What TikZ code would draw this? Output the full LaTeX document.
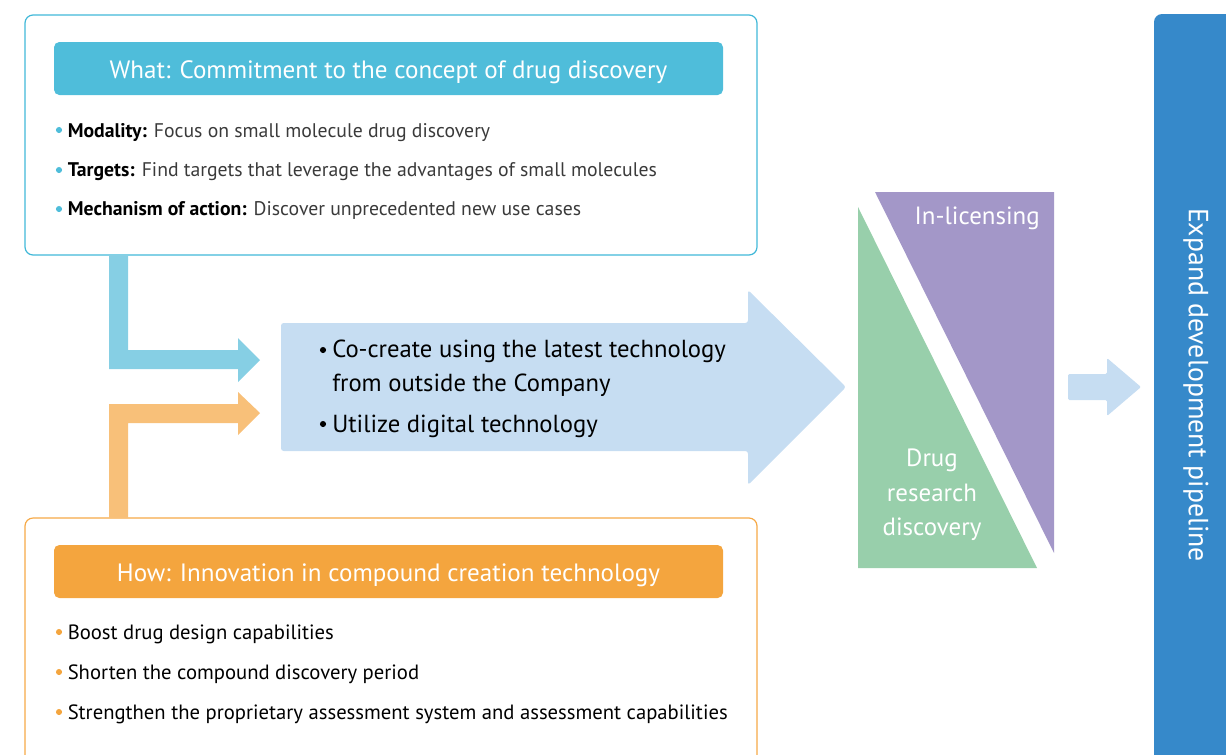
\documentclass[tikz,border=0pt]{standalone}
\usepackage{fontspec}
\setmainfont{PT Sans}
\definecolor{cyanline}{HTML}{41B8D8}
\definecolor{cyanhead}{HTML}{4FBDDA}
\definecolor{cyanarrow}{HTML}{86CFE4}
\definecolor{orangeline}{HTML}{F6A947}
\definecolor{orangehead}{HTML}{F4A53E}
\definecolor{orangearrow}{HTML}{F8C079}
\definecolor{bluearrow}{HTML}{C6DDF2}
\definecolor{greentri}{HTML}{98CFAB}
\definecolor{purpletri}{HTML}{A397C8}
\definecolor{barblue}{HTML}{3689CA}
\definecolor{softtext}{HTML}{3A3A3A}
\tikzset{
  outerbox/.style={draw=#1, line width=0.9pt, rounded corners=6pt, minimum width=549pt, inner sep=0pt},
  headbar/.style={fill=#1, rounded corners=4pt, minimum width=501.75pt, minimum height=39.75pt, inner sep=0pt},
  headtext/.style={text=white, font=\fontsize{18.8}{22}\selectfont, anchor=base, inner sep=0pt},
  itemtext/.style={anchor=base west, inner sep=0pt, font=\fontsize{15.5}{17}\selectfont},
  whattext/.style={anchor=base west, inner sep=0pt, font=\fontsize{14.8}{17}\selectfont},
  bigtext/.style={anchor=base west, inner sep=0pt, font=\fontsize{18.5}{20}\selectfont},
  tritext/.style={text=white, inner sep=0pt, font=\fontsize{18.7}{20}\selectfont},
}
\begin{document}
\begin{tikzpicture}[x=0.75pt,y=-0.75pt]
\clip (0,0) rectangle (1226,754);
% top box
\node[outerbox=cyanline, minimum height=180pt] (what) at (391,135) {};
\node[headbar=cyanhead] (whathead) at (388.5,68.5) {};
\node[headtext] (whatt) at (388.5,78) {What: Commitment to the concept of drug discovery};
\foreach \yy in {130,170,209} {\fill[cyanhead] (59,\yy) circle (2.3pt);}
\node[whattext] (w1) at (67.5,137) {\textbf{Modality:} \textcolor{softtext}{Focus on small molecule drug discovery}};
\node[whattext] (w2) at (67.5,176) {\textbf{Targets:} \textcolor{softtext}{Find targets that leverage the advantages of small molecules}};
\node[whattext] (w3) at (67.5,215) {\textbf{Mechanism of action:} \textcolor{softtext}{Discover unprecedented new use cases}};
% bottom box
\draw[orangeline, line width=0.9pt, rounded corners=6pt] (25,800) -- (25,518) -- (757,518) -- (757,800);
\coordinate (how) at (391,518);
\node[headbar=orangehead] (howhead) at (388.5,571.5) {};
\node[headtext] (howt) at (388.5,581) {How: Innovation in compound creation technology};
\foreach \yy in {632,672,712} {\fill[orangehead] (59,\yy) circle (2.3pt);}
\node[itemtext] (h1) at (67.5,639) {Boost drug design capabilities};
\node[itemtext] (h2) at (67.5,679) {Shorten the compound discovery period};
\node[itemtext] (h3) at (67.5,719) {Strengthen the proprietary assessment system and assessment capabilities};
% L arrows
\fill[cyanarrow] (109,255) -- (109,369) -- (238,369) -- (238,382) -- (260,360) -- (238,338) -- (238,350) -- (128,350) -- (128,255) -- cycle;
\fill[orangearrow] (109,518) -- (109,404) -- (238,404) -- (238,392) -- (260,413) -- (238,435) -- (238,423) -- (128,423) -- (128,518) -- cycle;
% big arrow
\fill[bluearrow, rounded corners=2pt] (281,323) -- (748,323) -- (748,290) -- (846,387) -- (748,485) -- (748,451) -- (281,451) -- cycle;
\foreach \yy in {350,424} {\fill[black] (323,\yy) circle (2.3pt);}
\node[bigtext] (c1) at (332,357) {Co-create using the latest technology};
\node[bigtext] (c2) at (332,391) {from outside the Company};
\node[bigtext] (c3) at (332,432) {Utilize digital technology};
% triangles
\fill[greentri] (858,207) -- (858,568) -- (1037,568) -- cycle;
\fill[purpletri] (875,192) -- (1054,192) -- (1054,553) -- cycle;
\node[tritext, anchor=base east] (lic) at (1040,224) {In-licensing};
\node[tritext, anchor=base] (drug1) at (932,466) {Drug};
\node[tritext, anchor=base] (drug2) at (932,501) {research};
\node[tritext, anchor=base] (drug3) at (932,535) {discovery};
% small arrow
\fill[bluearrow, rounded corners=1pt] (1068,374) -- (1107,374) -- (1107,358) -- (1141,387) -- (1107,416) -- (1107,400) -- (1068,400) -- cycle;
% right bar
\fill[barblue, rounded corners=6pt] (1154,14) rectangle (1260,800);
\node[text=white, rotate=-90, inner sep=0pt, font=\fontsize{20.8}{22}\selectfont] (pipe) at (1196,385) {Expand development pipeline};
\end{tikzpicture}
\end{document}
